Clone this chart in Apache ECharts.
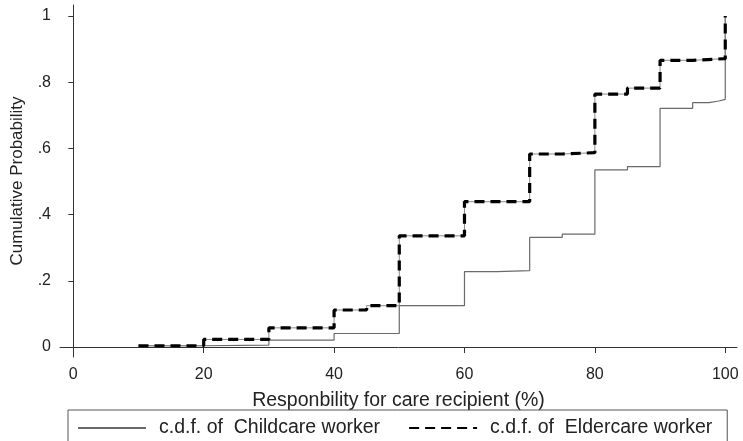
<!DOCTYPE html>
<html>
<head>
<meta charset="utf-8">
<script src="https://cdn.jsdelivr.net/npm/echarts@6/dist/echarts.min.js"></script>
<style>html,body{margin:0;padding:0;background:#fff}#c{width:743px;height:441px}</style>
</head>
<body>
<div id="c"></div>
<script>
// x values (percent responsibility) and cumulative probabilities
const childX = [10, 20, 30, 40, 50, 60, 65, 70, 75, 80, 85, 90, 95, 97.5, 99, 100];
const childY = [0.004, 0.006, 0.021, 0.041, 0.125, 0.228, 0.231, 0.331, 0.341, 0.535, 0.545, 0.721, 0.738, 0.743, 0.748, 1.0];
const elderX = [10, 20, 30, 40, 45, 50, 60, 70, 75, 80, 85, 90, 95, 100];
const elderY = [0.004, 0.023, 0.058, 0.112, 0.125, 0.336, 0.439, 0.583, 0.587, 0.764, 0.782, 0.866, 0.871, 1.0];
const xTicks = [0, 20, 40, 60, 80, 100];
const yTicks = [0, 0.2, 0.4, 0.6, 0.8, 1];
const yTickLabels = ['0', '.2', '.4', '.6', '.8', '1'];
const seriesNames = ['c.d.f. of  Childcare worker', 'c.d.f. of  Eldercare worker'];
const xTitle = 'Responbility for care recipient (%)';
const yTitle = 'Cumulative Probability';

const pair = (xs, ys) => xs.map((x, i) => [x, ys[i]]);
const FONT = 'Liberation Sans, Arial, sans-serif';
const chart = echarts.init(document.getElementById('c'), null, {renderer: 'canvas'});
chart.setOption({
  animation: false,
  backgroundColor: '#fff',
  grid: {left: 60, right: 6, top: 5, bottom: 84, containLabel: false},
  xAxis: {
    type: 'value', min: -2.04, max: 101.8,
    splitLine: {show: false},
    axisLine: {lineStyle: {color: '#333', width: 1}},
    axisTick: {show: true, length: 6, lineStyle: {color: '#333'}, customValues: xTicks},
    axisLabel: {customValues: xTicks, color: '#222', fontSize: 16, fontFamily: FONT, margin: 10},
    name: xTitle, nameLocation: 'middle', nameGap: 34,
    nameTextStyle: {color: '#222', fontSize: 19.5, fontFamily: FONT}
  },
  yAxis: {
    type: 'value', min: -0.030, max: 1.033,
    splitLine: {show: false},
    axisLine: {show: true, lineStyle: {color: '#333', width: 1}},
    axisTick: {show: true, length: 5, lineStyle: {color: '#333'}, customValues: yTicks},
    axisLabel: {customValues: yTicks, color: '#222', fontSize: 16, fontFamily: FONT, margin: 9,
      formatter: v => { const i = yTicks.findIndex(t => Math.abs(t - v) < 1e-6); return i >= 0 ? yTickLabels[i] : ''; }},
    name: yTitle, nameLocation: 'middle', nameGap: 34, nameRotate: 90,
    nameTextStyle: {color: '#222', fontSize: 17, fontFamily: FONT}
  },
  legend: {
    data: seriesNames,
    left: 68, top: 410,
    orient: 'horizontal',
    itemWidth: 68, itemHeight: 12, itemGap: 28,
    padding: [8, 15, 12, 9],
    borderColor: '#555', borderWidth: 1,
    itemStyle: {opacity: 0},
    textStyle: {color: '#222', fontSize: 19.5, fontFamily: FONT, padding: [0, 0, 0, 8]}
  },
  series: [
    {
      name: seriesNames[0], type: 'line', step: 'end', symbol: 'none',
      data: pair(childX, childY),
      itemStyle: {color: '#6a6a6a'},
      lineStyle: {color: '#6a6a6a', width: 1.2}, z: 2
    },
    {
      name: seriesNames[1] + ' base', type: 'line', step: 'end', symbol: 'none',
      data: pair(elderX, elderY), silent: true,
      itemStyle: {color: '#8a8a8a'},
      lineStyle: {color: '#8a8a8a', width: 1}, z: 3
    },
    {
      name: seriesNames[1], type: 'line', step: 'end', symbol: 'none',
      data: pair(elderX, elderY),
      itemStyle: {color: '#000'},
      lineStyle: {color: '#000', width: 3.2, type: [10, 6]}, z: 4
    }
  ]
});
</script>
</body>
</html>
